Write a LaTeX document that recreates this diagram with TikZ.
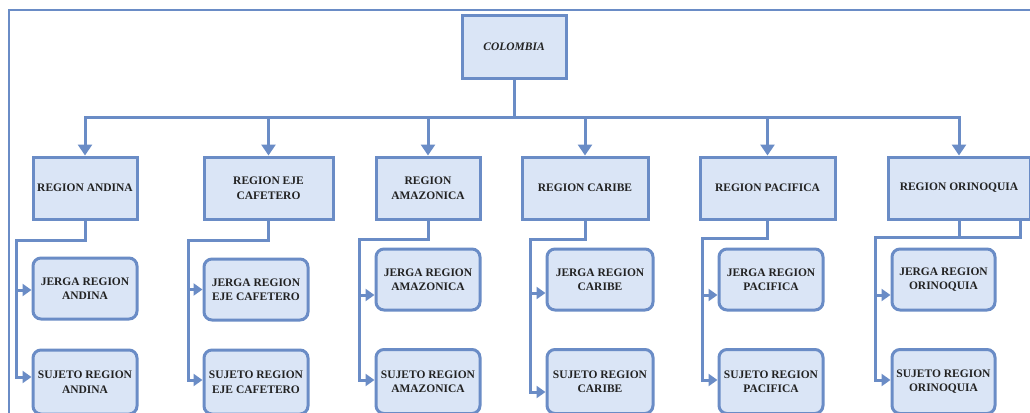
\documentclass[tikz,border=0pt]{standalone}
\usepackage{fontspec}
\setmainfont{Liberation Serif}
\usetikzlibrary{arrows.meta}
\definecolor{edgeblue}{HTML}{6A8CC6}
\definecolor{boxfill}{HTML}{DAE5F6}
\definecolor{txtgray}{HTML}{222222}
\begin{document}
\begin{tikzpicture}[x=1pt,y=-1pt,
 box/.style={draw=edgeblue, fill=boxfill, line width=3pt, inner sep=0pt, align=center,
   font=\bfseries\fontsize{11.5}{14.5}\selectfont, text=txtgray},
 rbox/.style={box, rounded corners=8pt},
 conn/.style={draw=edgeblue, line width=3pt, line join=miter},
 bigarrow/.style={-{Triangle[width=14pt,length=11pt]}},
 smallarrow/.style={-{Triangle[width=12pt,length=9pt]}},
]
\useasboundingbox (0,0) rectangle (1030,412);
\clip (0,0) rectangle (1030,412);
\fill[white] (0,0) rectangle (1030,412);
% outer frame
\draw[edgeblue, line width=1.8pt] (9,10) rectangle (1060,440);

% top
\node[box, minimum width=104pt, minimum height=62pt] (col) at (514,47) {\textit{COLOMBIA}};

% regions
\node[box, minimum width=104pt, minimum height=62pt] (and) at (85,188) {REGION ANDINA};
\node[box, minimum width=129pt, minimum height=62pt] (eje) at (268.5,188) {REGION EJE\\CAFETERO};
\node[box, minimum width=104pt, minimum height=62pt] (ama) at (428,188) {REGION\\AMAZONICA};
\node[box, minimum width=126pt, minimum height=62pt] (car) at (585,188) {REGION CARIBE};
\node[box, minimum width=135pt, minimum height=62pt] (pac) at (767.5,188) {REGION PACIFICA};
\node[box, minimum width=142pt, minimum height=62pt] (ori) at (959,188) {REGION ORINOQUIA};

% sub boxes
\node[rbox, minimum width=104pt, minimum height=61pt] (andJ) at (85,288.5) {JERGA REGION\\ANDINA};
\node[rbox, minimum width=104pt, minimum height=64pt] (andU) at (85,382) {SUJETO REGION\\ANDINA};
\node[rbox, minimum width=104pt, minimum height=61pt] (ejeJ) at (256,289.5) {JERGA REGION\\EJE CAFETERO};
\node[rbox, minimum width=104pt, minimum height=64pt] (ejeU) at (256,382) {SUJETO REGION\\EJE CAFETERO};
\node[rbox, minimum width=104pt, minimum height=61pt] (amaJ) at (428,279.5) {JERGA REGION\\AMAZONICA};
\node[rbox, minimum width=104pt, minimum height=64pt] (amaU) at (428,381.5) {SUJETO REGION\\AMAZONICA};
\node[rbox, minimum width=106pt, minimum height=61pt] (carJ) at (600,279.5) {JERGA REGION\\CARIBE};
\node[rbox, minimum width=106pt, minimum height=64pt] (carU) at (600,381.5) {SUJETO REGION\\CARIBE};
\node[rbox, minimum width=104pt, minimum height=61pt] (pacJ) at (771,279.5) {JERGA REGION\\PACIFICA};
\node[rbox, minimum width=104pt, minimum height=64pt] (pacU) at (771,381.5) {SUJETO REGION\\PACIFICA};
\node[rbox, minimum width=103pt, minimum height=61pt] (oriJ) at (943.5,279.5) {JERGA REGION\\ORINOQUIA};
\node[rbox, minimum width=103pt, minimum height=64pt] (oriU) at (943.5,381.5) {SUJETO REGION\\ORINOQUIA};

% top connectors
\coordinate (busY) at (0,117);
\draw[conn] (col.south) -- (col.south |- busY);
\draw[conn, line cap=rect] (and.north |- busY) -- (ori.north |- busY);
\foreach \r in {and,eje,ama,car,pac,ori}{
  \draw[conn, bigarrow] (\r.north |- busY) -- (\r.north);
}

% spine corners
\coordinate (andS) at (16,240);
\coordinate (ejeS) at (188,240);
\coordinate (amaS) at (359,239);
\coordinate (carS) at (530,239);
\coordinate (pacS) at (702,238);
\coordinate (oriS) at (875,237);

% arrow targets
\coordinate (andJa) at ([yshift=-1.5pt]andJ.west);
\coordinate (andUa) at ([yshift=5pt]andU.west);
\coordinate (ejeJa) at (ejeJ.west);
\coordinate (ejeUa) at ([yshift=2pt]ejeU.west);
\coordinate (amaJa) at ([yshift=-15.5pt]amaJ.west);
\coordinate (amaUa) at ([yshift=1.5pt]amaU.west);
\coordinate (carJa) at ([yshift=-13.5pt]carJ.west);
\coordinate (carUa) at ([yshift=-10.5pt]carU.west);
\coordinate (pacJa) at ([yshift=-15.5pt]pacJ.west);
\coordinate (pacUa) at ([yshift=1.5pt]pacU.west);
\coordinate (oriJa) at ([yshift=-15.5pt]oriJ.west);
\coordinate (oriUa) at ([yshift=1.5pt]oriU.west);

\foreach \r in {and,eje,ama,car,pac,ori}{
  \draw[conn, smallarrow] (\r.south) |- (\r S) |- (\r Ua);
  \draw[conn, smallarrow] (\r S |- \r Ja) -- (\r Ja);
}
\coordinate (oriR) at (1020,0);
\draw[conn] (oriR |- ori.south) |- (oriS);
\end{tikzpicture}
\end{document}
